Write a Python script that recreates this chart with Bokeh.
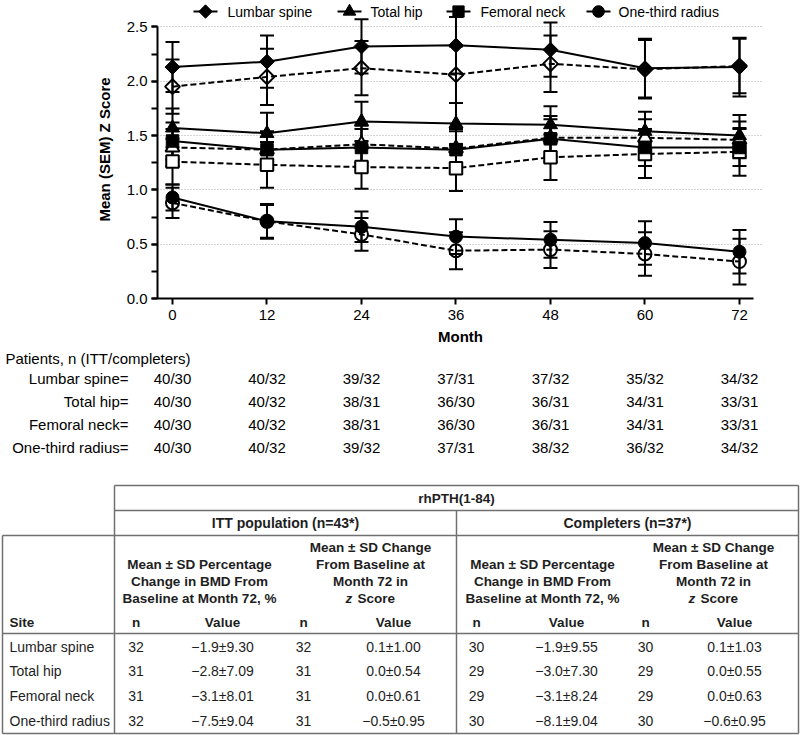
import numpy as np
from bokeh.plotting import figure
from bokeh.models import Range1d, FixedTicker, SingleIntervalTicker, PrintfTickFormatter
from bokeh.layouts import column
from bokeh.embed import file_html
from bokeh.resources import INLINE
from bokeh.core.properties import value

SANS = "Liberation Sans"

# ---------------- data ----------------
months = [0, 12, 24, 36, 48, 60, 72]
sites = ["Lumbar spine", "Total hip", "Femoral neck", "One-third radius"]

lumbar_itt = [2.13, 2.18, 2.32, 2.33, 2.29, 2.12, 2.13]
lumbar_itt_sem = [0.23, 0.24, 0.25, 0.26, 0.25, 0.27, 0.27]
lumbar_comp = [1.95, 2.04, 2.12, 2.06, 2.16, 2.11, 2.14]
lumbar_comp_sem = [0.25, 0.26, 0.25, 0.26, 0.26, 0.27, 0.25]

hip_itt = [1.57, 1.52, 1.63, 1.61, 1.60, 1.54, 1.50]
hip_itt_sem = [0.18, 0.19, 0.18, 0.19, 0.17, 0.18, 0.19]
hip_comp = [1.39, 1.37, 1.42, 1.38, 1.48, 1.48, 1.46]
hip_comp_sem = [0.17, 0.17, 0.17, 0.18, 0.17, 0.17, 0.17]

neck_itt = [1.45, 1.37, 1.39, 1.37, 1.47, 1.39, 1.39]
neck_itt_sem = [0.17, 0.16, 0.17, 0.17, 0.21, 0.17, 0.17]
neck_comp = [1.26, 1.23, 1.21, 1.20, 1.30, 1.33, 1.35]
neck_comp_sem = [0.21, 0.21, 0.20, 0.21, 0.21, 0.22, 0.22]

radius_itt = [0.93, 0.71, 0.66, 0.57, 0.54, 0.51, 0.43]
radius_itt_sem = [0.12, 0.15, 0.14, 0.16, 0.165, 0.20, 0.20]
radius_comp = [0.88, 0.71, 0.59, 0.44, 0.45, 0.41, 0.34]
radius_comp_sem = [0.14, 0.16, 0.15, 0.17, 0.17, 0.20, 0.21]

n_lumbar = ["40/30", "40/32", "39/32", "37/31", "37/32", "35/32", "34/32"]
n_hip = ["40/30", "40/32", "38/31", "36/30", "36/31", "34/31", "33/31"]
n_neck = ["40/30", "40/32", "38/31", "36/30", "36/31", "34/31", "33/31"]
n_radius = ["40/30", "40/32", "39/32", "37/31", "38/32", "36/32", "34/32"]
n_labels = ["Lumbar spine=", "Total hip=", "Femoral neck=", "One-third radius="]

itt_pct_n = ["32", "31", "31", "32"]
itt_pct = ["\u22121.9\u00b19.30", "\u22122.8\u00b17.09", "\u22123.1\u00b18.01", "\u22127.5\u00b19.04"]
itt_z_n = ["32", "31", "31", "31"]
itt_z = ["0.1\u00b11.00", "0.0\u00b10.54", "0.0\u00b10.61", "\u22120.5\u00b10.95"]
comp_pct_n = ["30", "29", "29", "30"]
comp_pct = ["\u22121.9\u00b19.55", "\u22123.0\u00b17.30", "\u22123.1\u00b18.24", "\u22128.1\u00b19.04"]
comp_z_n = ["30", "29", "29", "30"]
comp_z = ["0.1\u00b11.03", "0.0\u00b10.55", "0.0\u00b10.63", "\u22120.6\u00b10.95"]

# ---------------- chart ----------------
W = 800
TOTAL_H = 735
LEFT, RIGHT = 157, 37
FRAME_W = W - LEFT - RIGHT
FRAME_H = 298
H1 = 351
X_START, X_END = -1.905, 75.05
Y_START, Y_END = 0.0, 2.743
PXPM = FRAME_W / (X_END - X_START)
PXPU = FRAME_H / (Y_END - Y_START)

p = figure(width=W, height=H1, x_range=Range1d(X_START, X_END), y_range=Range1d(Y_START, Y_END),
           output_backend="svg", toolbar_location=None,
           min_border_left=LEFT, min_border_right=RIGHT, min_border_top=0,
           min_border_bottom=H1 - FRAME_H)
p.outline_line_color = None

p.xgrid.visible = False
p.ygrid.ticker = FixedTicker(ticks=[0.5, 1.0, 1.5, 2.0, 2.5])
p.ygrid.grid_line_color = "#a8a8a8"
p.ygrid.grid_line_dash = "1 2"
p.ygrid.grid_line_width = 1

for ax in (p.xaxis[0], p.yaxis[0]):
    ax.axis_line_width = 2
    ax.axis_line_color = "black"
    ax.major_tick_line_width = 2
    ax.major_tick_line_color = "black"
    ax.major_tick_in = 0
    ax.major_tick_out = 6
    ax.major_label_text_font = SANS
    ax.major_label_text_font_size = "15px"
    ax.major_label_text_color = "black"
    ax.axis_label_text_font = SANS
    ax.axis_label_text_font_size = "15px"
    ax.axis_label_text_font_style = "bold"
    ax.axis_label_text_color = "black"

p.yaxis.ticker = SingleIntervalTicker(interval=0.5, num_minor_ticks=2)
p.yaxis.bounds = (0, 2.5)
p.yaxis.formatter = PrintfTickFormatter(format="%.1f")
p.yaxis.minor_tick_in = 0
p.yaxis.minor_tick_out = 6
p.yaxis.minor_tick_line_width = 2
p.yaxis.minor_tick_line_color = "black"
p.yaxis.major_label_standoff = 4
p.yaxis.axis_label = "Mean (SEM) Z Score"
p.yaxis.axis_label_standoff = 11

p.xaxis.ticker = FixedTicker(ticks=months)
p.xaxis.bounds = (X_START, 73.78)
p.xaxis.minor_tick_line_color = None
p.xaxis.major_label_standoff = 5
p.xaxis.axis_label = "Month"
p.xaxis.axis_label_standoff = 5

series = [
    (lumbar_itt, lumbar_itt_sem, lumbar_comp, lumbar_comp_sem, dict(marker="square", size=10.5, angle=np.pi / 4), True),
    (hip_itt, hip_itt_sem, hip_comp, hip_comp_sem, dict(marker="triangle", size=14, angle=0), False),
    (neck_itt, neck_itt_sem, neck_comp, neck_comp_sem, dict(marker="square", size=12.5, angle=0), False),
    (radius_itt, radius_itt_sem, radius_comp, radius_comp_sem, dict(marker="circle", size=13, angle=0), True),
]

for itt, itt_s, comp, comp_s, mk, see_through in series:
    p.line(months, comp, line_color="black", line_width=2, line_dash="6 3")
    p.line(months, itt, line_color="black", line_width=2)

for itt, itt_s, comp, comp_s, mk, see_through in series:
    for m, s in ((itt, itt_s), (comp, comp_s)):
        up = [a + b for a, b in zip(m, s)]
        lo = [a - b for a, b in zip(m, s)]
        p.segment(x0=months, y0=lo, x1=months, y1=up, line_color="black", line_width=2)
        p.scatter(months, up, marker="dash", size=14, line_color="black", line_width=2)
        p.scatter(months, lo, marker="dash", size=14, line_color="black", line_width=2)

for itt, itt_s, comp, comp_s, mk, see_through in series:
    p.scatter(months, comp, marker=mk["marker"], size=mk["size"], angle=mk["angle"],
              fill_color="white", fill_alpha=0.0 if see_through else 1.0,
              line_color="black", line_width=2)
    p.scatter(months, itt, marker=mk["marker"], size=mk["size"], angle=mk["angle"],
              fill_color="black", line_color="black", line_width=1)

# legend drawn above the data
def px_to_x(px):
    return X_START + (px - LEFT) / PXPM

def py_to_y(py):
    return Y_END - py / PXPU

leg_marker_px = [205, 349, 458, 598]
leg_text_px = [227, 370, 480, 618]
leg_y = py_to_y(11)
p.segment(x0=[px_to_x(v - 12) for v in leg_marker_px], y0=[leg_y] * 4,
          x1=[px_to_x(v + 12) for v in leg_marker_px], y1=[leg_y] * 4,
          line_color="black", line_width=2)
for (itt, itt_s, comp, comp_s, mk, st), mpx in zip(series, leg_marker_px):
    p.scatter([px_to_x(mpx)], [leg_y], marker=mk["marker"], size=mk["size"] * 0.9, angle=mk["angle"],
              fill_color="black", line_color="black", line_width=1)
p.text(x=[px_to_x(v) for v in leg_text_px], y=[leg_y] * 4, text=sites,
       text_font=value(SANS), text_font_size="14px", text_color="black",
       text_align="left", text_baseline="middle")

# ---------------- counts + table ----------------
H2 = TOTAL_H - H1
q = figure(width=W, height=H2, x_range=Range1d(0, W), y_range=Range1d(TOTAL_H, H1),
           output_backend="svg", toolbar_location=None, min_border=0,
           min_border_left=0, min_border_right=0, min_border_top=0, min_border_bottom=0,
           x_axis_type=None, y_axis_type=None)
q.extra_x_ranges = {"month": Range1d(X_START - LEFT / PXPM, X_END + RIGHT / PXPM)}
q.grid.visible = False
q.outline_line_color = None

for fig in (p, q):
    try:
        fig.frame_align = False
    except Exception:
        pass

q.text(x=[5], y=[358], text=["Patients, n (ITT/completers)"], text_font=value(SANS),
       text_font_size="15px", text_color="black", text_align="left", text_baseline="middle")
row_y = [378, 401, 424, 447]
q.text(x=[128] * 4, y=row_y, text=n_labels, text_font=value(SANS), text_font_size="15px",
       text_color="black", text_align="right", text_baseline="middle")
for counts, ry in zip([n_lumbar, n_hip, n_neck, n_radius], row_y):
    q.text(x=months, y=[ry] * len(months), text=counts, x_range_name="month",
           text_font=value(SANS), text_font_size="15px", text_color="black",
           text_align="center", text_baseline="middle")

# table geometry (page pixels)
TL, TR = 2, 798
C1, C2 = 114, 456
Y0, Y1, Y2, Y3, Y4 = 485, 510, 535, 633, 733
LC = "#707070"
q.segment(x0=[C1, C1, TL, TL, TL, C1, C2, TR, TL],
          y0=[Y0, Y1, Y2, Y3, Y4, Y0, Y1, Y0, Y2],
          x1=[TR, TR, TR, TR, TR, C1, C2, TR, TL],
          y1=[Y0, Y1, Y2, Y3, Y4, Y4, Y4, Y4, Y4],
          line_color=LC, line_width=1.5)

TC = "#1e1e1e"
def hdr(x, y, t, align="center", style="bold", size="13.5px"):
    q.text(x=x, y=y, text=t, text_font=value(SANS), text_font_size=size,
           text_font_style=style, text_color=TC, text_align=align, text_baseline="middle")

hdr([456], [497.5], ["rhPTH(1-84)"])
hdr([285, 627], [522.5, 522.5], ["ITT population (n=43*)", "Completers (n=37*)"], size="14px")

pct_lines = ["Mean \u00b1 SD Percentage", "Change in BMD From", "Baseline at Month 72, %"]
z_lines = ["Mean \u00b1 SD Change", "From Baseline at", "Month 72 in"]
pct_cx = [199, 542]
z_cx = [370, 713]
for cx in pct_cx:
    hdr([cx] * 3, [564, 581, 598], pct_lines)
for cx in z_cx:
    hdr([cx] * 3, [547, 564, 581], z_lines)
    hdr([cx - 25], [598], ["z"], align="left", style="bold italic")
    hdr([cx - 13], [598], ["Score"], align="left")

col_n1 = [135.5, 476]
col_v1 = [222, 566]
col_n2 = [303, 645]
col_v2 = [393, 734]
site_row = 622
hdr([9], [site_row], ["Site"], align="left")
hdr(col_n1 + col_n2, [site_row] * 4, ["n"] * 4)
hdr(col_v1 + col_v2, [site_row] * 4, ["Value"] * 4)

data_y = [646.5, 670.5, 695, 720]
def cell(x, texts, align="center"):
    q.text(x=[x] * len(texts), y=data_y, text=texts, text_font=value(SANS), text_font_size="14px",
           text_color=TC, text_align=align, text_baseline="middle")

cell(9, sites, align="left")
cell(col_n1[0], itt_pct_n)
cell(col_v1[0], itt_pct)
cell(col_n2[0], itt_z_n)
cell(col_v2[0], itt_z)
cell(col_n1[1], comp_pct_n)
cell(col_v1[1], comp_pct)
cell(col_n2[1], comp_z_n)
cell(col_v2[1], comp_z)

layout = column(p, q, spacing=0)
open("out.html", "w").write(file_html(layout, INLINE))
